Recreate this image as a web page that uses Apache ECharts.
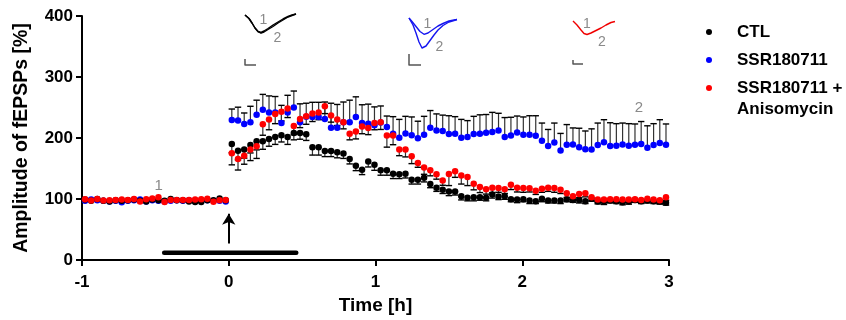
<!DOCTYPE html>
<html>
<head>
<meta charset="utf-8">
<script src="https://cdn.jsdelivr.net/npm/echarts@6/dist/echarts.min.js"></script>
<style>
  html, body { margin: 0; padding: 0; background: #fff; }
  #chart { width: 846px; height: 320px; }
</style>
</head>
<body>
<div id="chart"></div>
<script>
// time bins in minutes (baseline: 24 bins before t = 0, then 71 bins after)
const baseStartMin = -58.75
const baseStepMin = 2.5
const postStartMin = 1.25
const postStepMin = 2.536

// amplitude of fEPSPs [%], baseline
const ctlBase = [99, 97, 100, 97, 96, 98, 97, 98, 99, 97, 96, 99, 98, 97, 100, 98, 98, 96, 95, 95, 98, 98, 101, 98]
const ssrBase = [97, 99, 98, 97, 96, 97, 94.5, 97, 98, 99, 96, 98, 97, 96, 97, 98, 97, 98, 96.5, 97, 98, 97, 97, 96]
const anisoBase = [99.7, 97.5, 100, 97.5, 98, 98.5, 99, 98.5, 100, 96, 99.5, 101, 103, 95, 98.5, 98.5, 98.5, 98.5, 99, 99.5, 100.5, 95.5, 98, 98.5]

// amplitude after t = 0
const ctlPost = [190, 179, 181, 188.5, 194.5, 194.5, 198.5, 201.5, 204.5, 201.5, 208, 208, 206, 185, 185, 178.5, 178.5, 176.5, 174.5, 165.5, 154.5, 148, 161.5, 156, 147, 147, 141.5, 140.5, 141.5, 131.5, 131.5, 135, 124.5, 118.5,
  115, 112.5, 112.5, 104.5, 102, 103, 103, 102, 107.5, 104, 104.5, 99.5, 99, 99.5, 97.5, 96.5, 100.5, 97.5, 97.5, 97.5, 99.5, 98.5, 98.5, 96.5, 100.5, 96, 96, 97.5, 96.5, 94.5, 96.5, 98.5, 96.5, 97.5, 96.5, 96.5, 94]
const ssrPost = [229.5, 228.5, 223, 226, 238, 246.5, 242, 242, 224.5, 242, 250, 226, 235, 234.5, 234.5, 231, 217, 217, 226, 226, 234.5, 224.5, 223.5, 221, 225.5, 218, 207, 200.5, 207.5, 204.5, 199.5, 205.5, 217, 212.5,
  211.5, 206.5, 207, 200.5, 201.5, 206.5, 207, 208.5, 210, 212.5, 201.5, 204, 209, 205.5, 205.5, 203.5, 195.5, 187, 192.5, 179.5, 189, 189.5, 185, 181.5, 181, 188.5, 193, 187, 187.5, 189.5, 187.5, 189, 190, 184, 188.5, 192, 189]
const anisoPost = [175, 165.5, 171, 181, 186.5, 222.5, 230.5, 239.5, 243, 248.5, 219.5, 231, 235.5, 240, 242, 252, 237, 230.5, 226, 207, 210.5, 219, 216.5, 224.5, 226, 204, 204, 181, 181, 170, 159, 151.5, 147, 140.5,
  130.5, 141, 145.5, 138.5, 136, 125, 119.5, 116, 118.5, 118, 116, 123.5, 118.5, 118, 117.5, 113.5, 117, 118.5, 118, 115, 109.5, 104.5, 108, 109.5, 103, 99, 99, 99.5, 99.5, 99, 99, 99.5, 98.5, 100.5, 99, 98, 103]

// SEM after t = 0 (CTL and Anisomycin drawn downward, SSR180711 upward)
const ctlErr = [14, 15, 14, 13, 14, 13, 12, 12, 11, 12, 11, 10, 10, 13, 13, 9, 9, 9, 8, 8, 8, 8, 9, 9, 8, 8, 8, 7, 7, 7, 7, 7, 6, 6,
  6, 7, 6, 6, 5, 6, 5, 5, 6, 5, 5, 4, 5, 4, 5, 4, 5, 4, 4, 5, 4, 4, 5, 4, 4, 4, 5, 4, 4, 4, 5, 4, 4, 4, 4, 5, 4]
const ssrErr = [18, 22, 18, 26, 24, 25, 27, 26, 29, 28, 27, 30, 22, 24, 24, 28, 40, 38, 33, 36, 33, 30, 32, 30, 27, 18, 28, 30, 28, 30, 28, 30, 28, 27,
  26, 30, 28, 30, 27, 29, 31, 30, 32, 28, 32, 30, 27, 29, 31, 33, 29, 27, 32, 28, 33, 27, 31, 30, 34, 36, 37, 38, 36, 35, 36, 34, 37, 36, 35, 38, 34]
const anisoErr = [19, 18, 14, 18, 20, 18, 17, 16, 15, 15, 14, 14, 13, 13, 12, 12, 11, 10, 11, 10, 12, 12, 11, 11, 12, 19, 15, 10, 12, 12, 7, 11, 9, 8,
  8, 19, 10, 14, 14, 10, 9, 8, 8, 7, 7, 8, 7, 7, 6, 6, 6, 6, 7, 6, 7, 6, 6, 6, 6, 5, 5, 5, 5, 5, 5, 5, 5, 5, 5, 5, 5]

const xTicks = [-1, 0, 1, 2, 3]
const yTicks = [0, 100, 200, 300, 400]

// drug application bar [h] and stimulus arrow
const drugBar = [-0.44, 0.46]
const drugBarLevel = 12
const arrowFrom = 27
const arrowTo = 76

// sample-trace markers "1" (baseline) and "2" (end of recording): [h, %]
const traceMarks = [['1', -0.477, 122], ['2', 2.795, 249]]

const FONT = 'Liberation Sans, Arial, Helvetica, sans-serif'

const toHours = (m) => m / 60
function points(base, post) {
  const pts = base.map((v, i) => [toHours(baseStartMin + i * baseStepMin), v])
  post.forEach((v, i) => pts.push([toHours(postStartMin + i * postStepMin), v]))
  return pts
}
function errPoints(post, err) {
  return post.map((v, i) => [toHours(postStartMin + i * postStepMin), v, err[i]])
}

function errorBars(dir) {
  return function (params, api) {
    const t = api.value(0)
    const v = api.value(1)
    const e = api.value(2)
    const p0 = api.coord([t, v])
    const p1 = api.coord([t, v + dir * e])
    return {
      type: 'group',
      children: [
        { type: 'line', shape: { x1: p0[0], y1: p0[1], x2: p1[0], y2: p1[1] }, style: { stroke: '#333', lineWidth: 1.2 } },
        { type: 'line', shape: { x1: p1[0] - 3.2, y1: p1[1], x2: p1[0] + 3.2, y2: p1[1] }, style: { stroke: '#000', lineWidth: 1.4 } },
      ],
    }
  }
}

function markText(params, api) {
  const p = api.coord([api.value(1), api.value(2)])
  return {
    type: 'text',
    x: p[0], y: p[1],
    style: { text: traceMarks[params.dataIndex][0], fill: '#8a8a8a', font: '15px ' + FONT, align: 'center', verticalAlign: 'middle' },
  }
}

const chart = echarts.init(document.getElementById('chart'), null, { renderer: 'canvas' })

// small fEPSP sample traces above the plot (decoration)
function trace(pts, color, w) {
  return { type: 'polyline', shape: { points: pts }, style: { stroke: color, lineWidth: w || 1.4, fill: null, lineJoin: 'round' }, z: 10 }
}
function grayText(txt, x, y) {
  return { type: 'text', x: x, y: y, style: { text: txt, fill: '#8a8a8a', font: '14px ' + FONT, align: 'center', verticalAlign: 'middle' }, z: 10 }
}
function legendItem(color, y, label) {
  return [
    { type: 'circle', shape: { cx: 709, cy: y, r: 3 }, style: { fill: color }, z: 10 },
    { type: 'text', x: 737, y: y - 10.75, style: { text: label, fill: '#000', font: 'bold 17px ' + FONT, verticalAlign: 'top', lineHeight: 21.5 }, z: 10 },
  ]
}

const graphics = [].concat(
  // CTL inset
  trace([[245, 15], [249, 18.5], [252, 23], [255, 28], [258, 31.5], [261, 32.5], [264, 31], [268, 28.5], [273, 25], [278, 22], [283, 19], [288, 16.5], [292, 15], [296, 14]], '#000'),
  trace([[245, 15], [249, 18.5], [252, 23], [255, 28], [258, 31.5], [261, 33], [264, 32], [268, 29.5], [273, 26.5], [278, 23], [283, 20], [288, 17], [292, 15.5], [296, 14]], '#000'),
  grayText('1', 263.5, 20), grayText('2', 277.5, 38.5),
  trace([[245, 59], [245, 65], [256, 65]], '#555', 1.5),
  // SSR180711 inset
  trace([[409, 18], [412, 21.5], [416, 26.5], [420, 31.5], [424, 34.3], [428, 33], [433, 29.5], [438, 26], [443, 23.5], [449, 21], [454, 20], [457, 19.5]], '#1515f0'),
  trace([[409, 18], [413, 25], [416, 33], [419, 42], [422, 48], [426, 46], [430, 40.5], [434, 35], [438, 30], [443, 25.5], [449, 22], [454, 20.5], [457, 19.5]], '#1515f0'),
  grayText('1', 427.5, 24), grayText('2', 439.5, 47),
  trace([[409, 54], [409, 65], [421, 65]], '#555', 1.5),
  // Anisomycin inset
  trace([[573, 21], [577, 25], [581, 30], [584, 33.5], [587, 34.5], [591, 33], [596, 30.5], [601, 28], [606, 25], [611, 22.5], [615, 21.5]], '#f00000'),
  grayText('1', 587, 24), grayText('2', 602, 42),
  trace([[573, 60], [573, 64], [583, 64]], '#555', 1.5),
  // legend
  legendItem('#000', 32, 'CTL'),
  legendItem('#0000ff', 60, 'SSR180711'),
  legendItem('#ff0000', 88, 'SSR180711 +\nAnisomycin')
)

const dotSize = 6.5

chart.setOption({
  animation: false,
  backgroundColor: '#fff',
  grid: { left: 82, right: 177, top: 16, bottom: 60, containLabel: false },
  xAxis: {
    type: 'value',
    min: xTicks[0],
    max: xTicks[xTicks.length - 1],
    interval: 1,
    name: 'Time [h]',
    nameLocation: 'middle',
    nameGap: 33,
    nameTextStyle: { fontFamily: FONT, fontWeight: 'bold', fontSize: 19, color: '#000' },
    axisLine: { onZero: false, lineStyle: { color: '#000', width: 2 } },
    axisTick: { show: true, length: 6, lineStyle: { color: '#000', width: 2 } },
    axisLabel: { fontFamily: FONT, fontWeight: 'bold', fontSize: 17, color: '#000', margin: 14 },
    splitLine: { show: false },
  },
  yAxis: {
    type: 'value',
    min: yTicks[0],
    max: yTicks[yTicks.length - 1],
    interval: 100,
    name: 'Amplitude of fEPSPs [%]',
    nameLocation: 'middle',
    nameGap: 50,
    nameTextStyle: { fontFamily: FONT, fontWeight: 'bold', fontSize: 19.5, color: '#000' },
    axisLine: { show: true, onZero: false, lineStyle: { color: '#000', width: 2 } },
    axisTick: { show: true, length: 6, lineStyle: { color: '#000', width: 2 } },
    axisLabel: { fontFamily: FONT, fontWeight: 'bold', fontSize: 17, color: '#000', margin: 9 },
    splitLine: { show: false },
  },
  graphic: graphics,
  series: [
    {
      name: 'drug', type: 'line', data: drugBar.map((t) => [t, drugBarLevel]),
      symbol: 'none', lineStyle: { color: '#000', width: 4.5, cap: 'round' }, z: 1,
      markLine: {
        silent: true, symbol: ['none', 'arrow'], symbolSize: [10, 11],
        label: { show: false },
        lineStyle: { color: '#000', width: 2, type: 'solid' },
        data: [[{ coord: [0, arrowFrom] }, { coord: [0, arrowTo] }]],
      },
    },
    { name: 'SSR180711 err', type: 'custom', renderItem: errorBars(1), data: errPoints(ssrPost, ssrErr), encode: { x: 0, y: 1 }, z: 2 },
    { name: 'CTL err', type: 'custom', renderItem: errorBars(-1), data: errPoints(ctlPost, ctlErr), encode: { x: 0, y: 1 }, z: 2 },
    { name: 'Anisomycin err', type: 'custom', renderItem: errorBars(-1), data: errPoints(anisoPost, anisoErr), encode: { x: 0, y: 1 }, z: 2 },
    { name: 'SSR180711', type: 'scatter', data: points(ssrBase, ssrPost), symbolSize: dotSize, itemStyle: { color: '#0000ff', opacity: 1 }, z: 3 },
    { name: 'CTL', type: 'scatter', data: points(ctlBase, ctlPost), symbolSize: dotSize, itemStyle: { color: '#000', opacity: 1 }, z: 4 },
    { name: 'SSR180711 + Anisomycin', type: 'scatter', data: points(anisoBase, anisoPost), symbolSize: dotSize, itemStyle: { color: '#ff0000', opacity: 1 }, z: 5 },
    {
      name: 'trace marks', type: 'custom', silent: true, z: 6, renderItem: markText,
      data: traceMarks.map((m, i) => [i, m[1], m[2]]), encode: { x: 1, y: 2 },
    },
  ],
})
</script>
</body>
</html>
